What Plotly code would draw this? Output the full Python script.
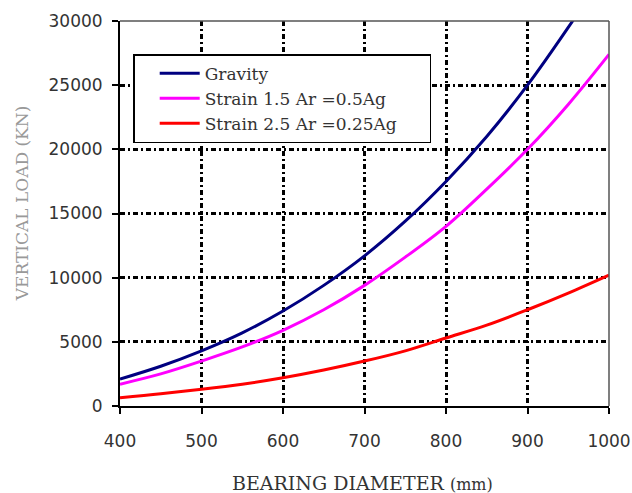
import plotly.graph_objects as go

diameter = [400, 450, 500, 550, 600, 650, 700, 750, 800, 850, 900, 950, 1000]
gravity = [2100, 3100, 4300, 5700, 7400, 9400, 11700, 14400, 17500, 21000, 25000, 29500, 34300]
strain15 = [1700, 2500, 3500, 4600, 5900, 7500, 9400, 11600, 14000, 16900, 20000, 23500, 27400]
strain25 = [650, 950, 1300, 1700, 2200, 2800, 3500, 4300, 5300, 6300, 7500, 8800, 10200]

series_names = ["Gravity", "Strain 1.5 Ar =0.5Ag", "Strain 2.5 Ar =0.25Ag"]
series_colors = ["#000080", "#FF00FF", "#FF0000"]
x_ticks = [400, 500, 600, 700, 800, 900, 1000]
y_ticks = [0, 5000, 10000, 15000, 20000, 25000, 30000]

fig = go.Figure()
for i, (name, vals, col) in enumerate(zip(series_names, [gravity, strain15, strain25], series_colors)):
    # trailing non-breaking spaces only widen the legend box to the reference's padding
    fig.add_trace(go.Scatter(x=diameter, y=vals, mode="lines", name=name + "\u00a0" * 5,
                             legendgroup=f"g{i}",
                             line=dict(color=col, width=3, shape="spline")))

tickfont = dict(family="DejaVu Sans", size=17, color="#333333")
grid = dict(showgrid=True, gridcolor="black", gridwidth=2.5, griddash="5px,3px,2px,3px",
            showline=True, linecolor="black", linewidth=2, ticks="outside", ticklen=6,
            tickwidth=2, tickcolor="black", zeroline=False, tickfont=tickfont,
            automargin=False)

fig.update_xaxes(range=[400, 1000], tickvals=x_ticks, ticklabelstandoff=13, **grid)
fig.update_yaxes(range=[0, 30000], tickvals=y_ticks, tickformat="d", ticklabelstandoff=6, **grid)

fig.add_shape(type="line", xref="paper", yref="paper", x0=0, x1=1, y0=1, y1=1,
              line=dict(color="#555555", width=1.5))
fig.add_shape(type="line", xref="paper", yref="paper", x0=1, x1=1, y0=0, y1=1,
              line=dict(color="#555555", width=1.5))

fig.add_annotation(text="BEARING DIAMETER <span style='font-size:16px'>(mm)</span>",
                   xref="paper", yref="paper", x=0.496, y=-0.2, xanchor="center", yanchor="middle",
                   showarrow=False, font=dict(family="DejaVu Serif", size=19, color="#333333"))
fig.add_annotation(text="VERTICAL LOAD (KN)", textangle=-90,
                   xref="paper", yref="paper", x=-0.2, y=0.527, xanchor="center", yanchor="middle",
                   showarrow=False, font=dict(family="DejaVu Serif", size=17, color="#999999"))

fig.update_layout(
    width=632, height=493,
    margin=dict(l=120, r=23, t=21, b=87),
    plot_bgcolor="white", paper_bgcolor="white",
    legend=dict(x=0.027, y=0.914, xanchor="left", yanchor="top",
                bgcolor="white", bordercolor="black", borderwidth=1.5,
                font=dict(family="DejaVu Serif", size=17, color="#333333"),
                tracegroupgap=0, itemwidth=40, indentation=20),
    showlegend=True,
)

fig.write_html("out.html", config={"displayModeBar": False},
               post_script="document.body.style.margin='0';document.body.style.overflow='hidden';")
